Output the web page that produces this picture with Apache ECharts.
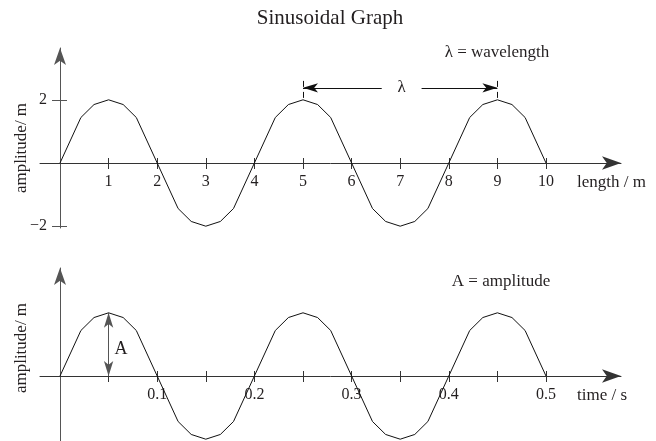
<!DOCTYPE html>
<html>
<head>
<meta charset="utf-8">
<script src="https://cdn.jsdelivr.net/npm/echarts@6/dist/echarts.min.js"></script>
<style>
  html, body { margin: 0; padding: 0; background: #ffffff; }
  #chart { width: 656px; height: 441px; }
</style>
</head>
<body>
<div id="chart"></div>
<script>
// Displacement along the wave (wavelength 4 m, amplitude 2 m)
const lengthValues = [0, 0.43, 0.7, 1, 1.3, 1.57, 2, 2.43, 2.7, 3, 3.3, 3.57, 4, 4.43, 4.7, 5, 5.3, 5.57, 6, 6.43, 6.7, 7, 7.3, 7.57, 8, 8.43, 8.7, 9, 9.3, 9.57, 10];
const lengthAmplitude = [0, 1.44, 1.85, 2, 1.85, 1.44, 0, -1.44, -1.85, -2, -1.85, -1.44, 0, 1.44, 1.85, 2, 1.85, 1.44, 0, -1.44, -1.85, -2, -1.85, -1.44, 0, 1.44, 1.85, 2, 1.85, 1.44, 0];

// Displacement over time at one point (period 0.2 s)
const timeValues = [0, 0.0215, 0.035, 0.05, 0.065, 0.0785, 0.1, 0.1215, 0.135, 0.15, 0.165, 0.1785, 0.2, 0.2215, 0.235, 0.25, 0.265, 0.2785, 0.3, 0.3215, 0.335, 0.35, 0.365, 0.3785, 0.4, 0.4215, 0.435, 0.45, 0.465, 0.4785, 0.5];
const timeAmplitude = [0, 1.44, 1.85, 2, 1.85, 1.44, 0, -1.44, -1.85, -2, -1.85, -1.44, 0, 1.44, 1.85, 2, 1.85, 1.44, 0, -1.44, -1.85, -2, -1.85, -1.44, 0, 1.44, 1.85, 2, 1.85, 1.44, 0];

// Axis ticks and labels
const lengthTicks = [1, 2, 3, 4, 5, 6, 7, 8, 9, 10];
const amplitudeTicks = [2, -2];
const timeTicks = [0.05, 0.1, 0.15, 0.2, 0.25, 0.3, 0.35, 0.4, 0.45, 0.5];
const timeLabels = [0.1, 0.2, 0.3, 0.4, 0.5];

// Annotations
const wavelengthStart = 5;
const wavelengthEnd = 9;
const amplitudeMarkTime = 0.05;
const amplitudeMarkValue = 2;

// Pixel layout of the two panels
const FONT = '"Liberation Serif", "DejaVu Serif", serif';
const INK = '#231f20';
const originX = 60, unitX = 48.6, unitY = 31.6;
const gridLeft = 40, gridRight = 621;
const upper = { zeroY: 163, top: 48, bottom: 228 };
const lower = { zeroY: 376, top: 268, bottom: 449 };
const secondsToMetres = 20;

const xMinLen = (gridLeft - originX) / unitX;
const xMaxLen = (gridRight - originX) / unitX;
const yRange = p => ({ max: (p.zeroY - p.top) / unitY, min: (p.zeroY - p.bottom) / unitY });
const yUpper = yRange(upper);
const yLower = yRange(lower);
// shift axes from the grid edges onto the zero lines
const yAxisShift = -(originX - gridLeft);

const chart = echarts.init(document.getElementById('chart'), null, { renderer: 'canvas' });

const textStyle = { fontFamily: FONT, fontSize: 16, color: INK };

function xAxisPair(gridIndex, panel, min, max, ticks, labels, formatter) {
  const offset = -(panel.bottom - panel.zeroY);
  return [
    {
      type: 'value', gridIndex, min, max, position: 'bottom', offset,
      splitLine: { show: false },
      axisLine: { onZero: false, symbol: ['none', 'arrow'], symbolSize: [10, 19], lineStyle: { color: '#333', width: 1 } },
      axisTick: { customValues: ticks, length: 6, lineStyle: { color: '#333', width: 1 } },
      axisLabel: { customValues: labels, margin: 11, formatter, ...textStyle }
    },
    {
      type: 'value', gridIndex, min, max, position: 'bottom', offset,
      splitLine: { show: false },
      axisLine: { onZero: false, lineStyle: { color: 'rgba(0,0,0,0)' } },
      axisTick: { customValues: ticks, inside: true, length: 5, lineStyle: { color: '#333', width: 1 } },
      axisLabel: { show: false }
    }
  ];
}

function panelGrid(panel) {
  return {
    left: gridLeft, top: panel.top,
    width: gridRight - gridLeft, height: panel.bottom - panel.top,
    containLabel: false, outerBoundsMode: 'none'
  };
}

const option = {
  animation: false,
  backgroundColor: '#ffffff',
  title: {
    text: 'Sinusoidal Graph',
    left: 325, top: 3, textAlign: 'center',
    textStyle: { fontFamily: FONT, fontSize: 21, fontWeight: 'normal', color: INK }
  },
  grid: [panelGrid(upper), panelGrid(lower)],
  xAxis: [
    ...xAxisPair(0, upper, xMinLen, xMaxLen, lengthTicks, lengthTicks, v => String(v)),
    ...xAxisPair(1, lower, xMinLen / secondsToMetres, xMaxLen / secondsToMetres, timeTicks, timeLabels, v => v.toFixed(1))
  ],
  yAxis: [
    {
      type: 'value', gridIndex: 0, min: yUpper.min, max: yUpper.max, position: 'left', offset: yAxisShift,
      splitLine: { show: false },
      axisLine: { onZero: false, symbol: ['none', 'arrow'], symbolSize: [9, 17], lineStyle: { color: '#555', width: 1 } },
      axisTick: { customValues: amplitudeTicks, length: 8, lineStyle: { color: '#555', width: 1 } },
      axisLabel: { customValues: amplitudeTicks, margin: 13, formatter: v => String(v).replace('-', '\u2212'), ...textStyle }
    },
    {
      type: 'value', gridIndex: 0, min: yUpper.min, max: yUpper.max, position: 'left', offset: yAxisShift,
      splitLine: { show: false },
      axisLine: { onZero: false, lineStyle: { color: 'rgba(0,0,0,0)' } },
      axisTick: { customValues: amplitudeTicks, inside: true, length: 7, lineStyle: { color: '#555', width: 1 } },
      axisLabel: { show: false }
    },
    {
      type: 'value', gridIndex: 1, min: yLower.min, max: yLower.max, position: 'left', offset: yAxisShift,
      splitLine: { show: false },
      axisLine: { onZero: false, symbol: ['none', 'arrow'], symbolSize: [9, 17], lineStyle: { color: '#555', width: 1 } },
      axisTick: { show: false },
      axisLabel: { show: false }
    }
  ],
  series: [
    {
      type: 'line',
      xAxisIndex: 0, yAxisIndex: 0,
      data: lengthValues.map((x, i) => [x, lengthAmplitude[i]]),
      showSymbol: false, smooth: false, silent: true, clip: false,
      lineStyle: { color: '#111', width: 1 },
      markLine: {
        silent: true,
        symbol: 'none',
        label: { show: false },
        lineStyle: { color: '#111', width: 1, type: 'solid' },
        data: [
          [{ coord: [wavelengthStart, 2.38], symbol: 'arrow', symbolSize: [7, 15] }, { coord: [6.62, 2.38], symbol: 'none' }],
          [{ coord: [7.44, 2.38], symbol: 'none' }, { coord: [wavelengthEnd, 2.38], symbol: 'arrow', symbolSize: [7, 15] }],
          [{ coord: [wavelengthStart, 2.06], lineStyle: { type: [6, 5] } }, { coord: [wavelengthStart, 2.74] }],
          [{ coord: [wavelengthEnd, 2.06], lineStyle: { type: [6, 5] } }, { coord: [wavelengthEnd, 2.74] }]
        ]
      },
      markPoint: {
        silent: true,
        symbol: 'rect', symbolSize: 1,
        itemStyle: { color: 'rgba(0,0,0,0)' },
        label: { show: true, formatter: '\u03bb', fontFamily: FONT, fontSize: 17, color: INK },
        data: [{ coord: [(wavelengthStart + wavelengthEnd) / 2 + 0.03, 2.4] }]
      }
    },
    {
      type: 'line',
      xAxisIndex: 2, yAxisIndex: 2,
      data: timeValues.map((t, i) => [t, timeAmplitude[i]]),
      showSymbol: false, smooth: false, silent: true, clip: false,
      lineStyle: { color: '#111', width: 1 },
      markLine: {
        silent: true,
        symbol: ['arrow', 'arrow'],
        symbolSize: [7, 15],
        label: { show: false },
        lineStyle: { color: '#555', width: 1, type: 'solid' },
        data: [
          [{ coord: [amplitudeMarkTime, 0] }, { coord: [amplitudeMarkTime, amplitudeMarkValue] }]
        ]
      },
      markPoint: {
        silent: true,
        symbol: 'rect', symbolSize: 1,
        itemStyle: { color: 'rgba(0,0,0,0)' },
        label: { show: true, formatter: 'A', fontFamily: FONT, fontSize: 18, color: INK },
        data: [{ coord: [0.0628, 0.85] }]
      }
    }
  ],
  graphic: [
    { type: 'text', x: 497, y: 53, style: { text: '\u03bb = wavelength', font: '17px ' + FONT, fill: INK, textAlign: 'center', textVerticalAlign: 'middle' } },
    { type: 'text', x: 501, y: 282, style: { text: 'A = amplitude', font: '17px ' + FONT, fill: INK, textAlign: 'center', textVerticalAlign: 'middle' } },
    { type: 'text', x: 577, y: 183, style: { text: 'length / m', font: '17px ' + FONT, fill: INK, textAlign: 'left', textVerticalAlign: 'middle' } },
    { type: 'text', x: 577, y: 396, style: { text: 'time / s', font: '17px ' + FONT, fill: INK, textAlign: 'left', textVerticalAlign: 'middle' } },
    { type: 'text', x: 22, y: 148, rotation: Math.PI / 2, style: { text: 'amplitude/ m', font: '17px ' + FONT, fill: INK, textAlign: 'center', textVerticalAlign: 'middle' } },
    { type: 'text', x: 22, y: 348, rotation: Math.PI / 2, style: { text: 'amplitude/ m', font: '17px ' + FONT, fill: INK, textAlign: 'center', textVerticalAlign: 'middle' } }
  ]
};

chart.setOption(option);
</script>
</body>
</html>
